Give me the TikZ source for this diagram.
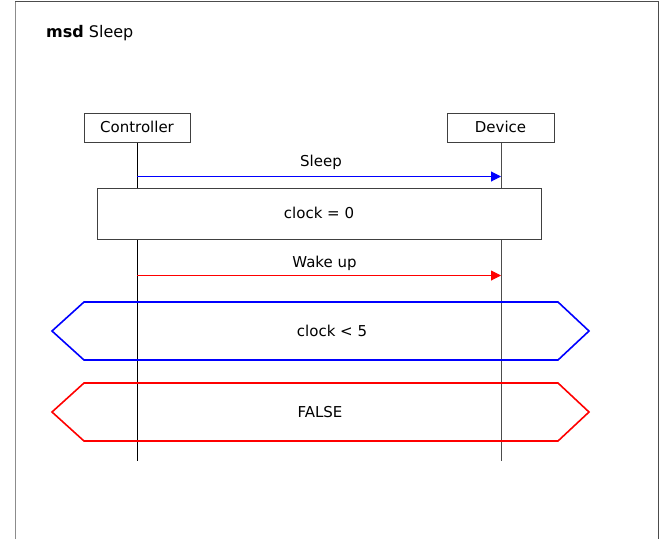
\documentclass[tikz,border=0pt]{standalone}
\usepackage{fontspec}
\setmainfont{DejaVu Sans}
\usetikzlibrary{arrows.meta}
\definecolor{msgred}{RGB}{255,0,0}
\definecolor{msgblue}{RGB}{0,0,255}
\tikzset{
  lbl/.style={font=\fontsize{15}{18}\selectfont, inner sep=0pt, anchor=base},
  lifebox/.style={draw=black!75, line width=1pt, fill=white, font=\fontsize{15}{18}\selectfont, inner sep=0pt, text height=10.5pt, text depth=0pt},
  lifeline/.style={line width=1pt},
  msgline/.style={line width=1pt},
  msgtip/.style={-{Triangle[length=10pt,width=10pt]}},
  hexa/.style={line width=1.6pt, line join=miter},
}
\begin{document}
\begin{tikzpicture}[x=1pt,y=-1pt]
\useasboundingbox (0,0) rectangle (660,539);
% frame
\draw[black!45, line width=1pt] (15,539) -- (15,1.5);
\draw[black!70, line width=1pt] (15,1.5) -- (658.5,1.5) -- (658.5,539);
\node[lbl, anchor=base west, font=\fontsize{16}{19}\selectfont] (title) at (46,37) {\textbf{msd} Sleep};
% lifeline heads
\node[lifebox, minimum width=106pt, minimum height=29pt] (ctrl) at (137,127.5) {Controller};
\node[lifebox, minimum width=107pt, minimum height=29pt] (dev) at (500.5,127.5) {Device};
\coordinate (ctrlend) at (137,461);
\coordinate (devend) at (501,461);
\draw[lifeline, black] (ctrl.south) -- (ctrlend);
\draw[lifeline, black!70] (dev.south -| devend) -- (devend);
% message Sleep
\coordinate (s1) at (137,176.5);
\coordinate (s2) at (501,176.5);
\draw[msgline, msgtip, color=msgblue] (s1) -- (s2);
\node[lbl] (sleeplbl) at (321,166) {Sleep};
% state box
\node[lifebox, minimum width=444pt, minimum height=51pt, text height=10.5pt] (clk) at (319,213.5) {clock = 0};
% message Wake up
\coordinate (w1) at (137,275.5);
\coordinate (w2) at (501,275.5);
\draw[msgline, msgtip, color=msgred] (w1) -- (w2);
\node[lbl] (wakelbl) at (324.5,267) {Wake up};
% guard hexagon
\draw[hexa, msgblue] (52,331) -- (84,302) -- (558,302) -- (589,331) -- (558,360) -- (84,360) -- cycle;
\node[lbl] (g1) at (332,336) {clock < 5};
% false hexagon
\draw[hexa, msgred] (52,412) -- (84,383) -- (558,383) -- (589,412) -- (558,441) -- (84,441) -- cycle;
\node[lbl] (g2) at (320,417) {FALSE};
\end{tikzpicture}
\end{document}
